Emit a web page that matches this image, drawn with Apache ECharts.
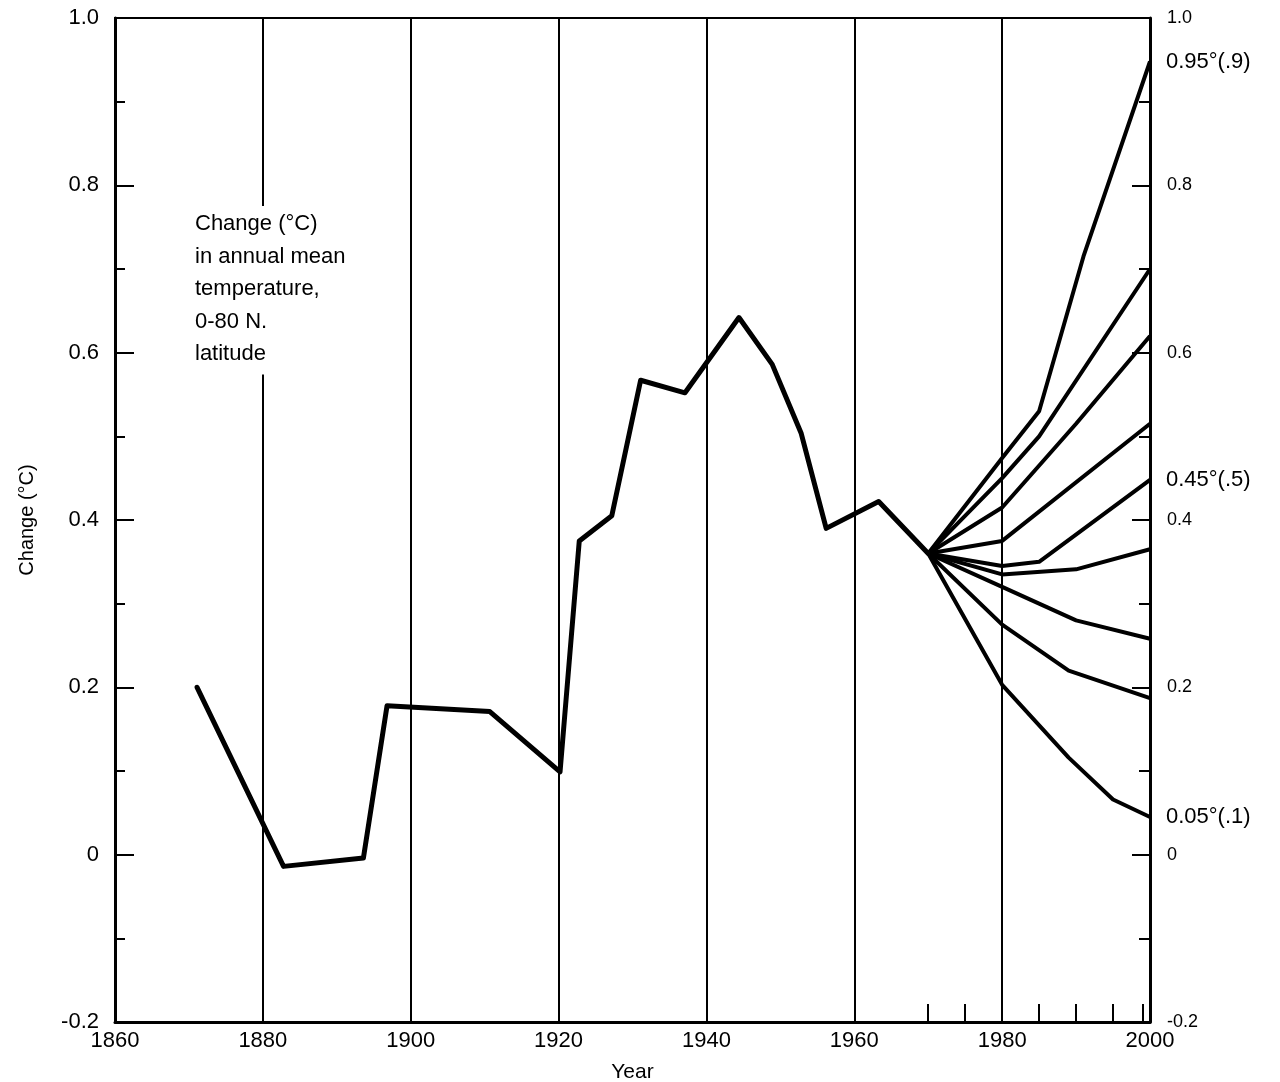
<!DOCTYPE html>
<html>
<head>
<meta charset="utf-8">
<script src="https://cdn.jsdelivr.net/npm/echarts@6/dist/echarts.min.js"></script>
<style>
  html, body { margin: 0; padding: 0; background: #fff; }
  #chart { width: 1280px; height: 1082px; }
</style>
</head>
<body>
<div id="chart"></div>
<script>
// observed annual mean change, 0-80 N
const observed = [
  [1871.1, 0.200], [1882.8, -0.014], [1893.6, -0.004], [1896.8, 0.178],
  [1910.7, 0.171], [1920.2, 0.099], [1922.8, 0.375], [1927.2, 0.405],
  [1931.1, 0.567], [1937.1, 0.552], [1944.4, 0.642], [1948.9, 0.586],
  [1952.8, 0.504], [1956.2, 0.390], [1963.3, 0.422], [1970, 0.36]
]

// projections fanning out from 1970
const proj1 = [[1970, 0.36], [1980, 0.474], [1985, 0.53], [1991, 0.715], [2000, 0.948]]
const proj2 = [[1970, 0.36], [1980, 0.45], [1985, 0.50], [2000, 0.70]]
const proj3 = [[1970, 0.36], [1980, 0.415], [1990, 0.515], [2000, 0.62]]
const proj4 = [[1970, 0.36], [1980, 0.375], [2000, 0.515]]
const proj5 = [[1970, 0.36], [1980, 0.345], [1985, 0.35], [2000, 0.448]]
const proj6 = [[1970, 0.36], [1980, 0.335], [1990, 0.341], [2000, 0.365]]
const proj7 = [[1970, 0.36], [1980, 0.32], [1985, 0.30], [1990, 0.28], [2000, 0.258]]
const proj8 = [[1970, 0.36], [1980, 0.275], [1989, 0.22], [2000, 0.187]]
const proj9 = [[1970, 0.36], [1980, 0.203], [1989, 0.116], [1995, 0.066], [2000, 0.045]]
const projections = [proj1, proj2, proj3, proj4, proj5, proj6, proj7, proj8, proj9]
const projLabels = ['0.95°(.9)', '', '', '', '0.45°(.5)', '', '', '', '0.05°(.1)']

const endTicks = [1970, 1975, 1985, 1990, 1995, 1999]
const note = 'Change (°C)\nin annual mean\ntemperature,\n0-80 N.\nlatitude'

const font = '"Liberation Sans", Arial, Helvetica, sans-serif'
const fmtY = v => (v === 0 ? '0' : v.toFixed(1))

const chart = echarts.init(document.getElementById('chart'), null, { renderer: 'canvas' })

const series = [{
  type: 'line',
  data: observed,
  symbol: 'none',
  lineStyle: { color: '#000', width: 5, join: 'round', cap: 'round' },
  z: 3
}]
projections.forEach((p, i) => {
  series.push({
    type: 'line',
    data: p,
    symbol: 'none',
    lineStyle: { color: '#000', width: 4, join: 'round' },
    endLabel: {
      show: projLabels[i] !== '',
      formatter: () => projLabels[i],
      distance: 16,
      color: '#000',
      fontFamily: font,
      fontSize: 22
    },
    z: 3
  })
})

chart.setOption({
  animation: false,
  backgroundColor: '#fff',
  grid: {
    left: 115,
    right: 130,
    top: 18,
    bottom: 60,
    outerBoundsMode: 'none',
    containLabel: false,
    show: true,
    borderColor: '#000',
    borderWidth: 2
  },
  xAxis: [{
    type: 'value',
    min: 1860,
    max: 2000,
    interval: 20,
    name: 'Year',
    nameLocation: 'middle',
    nameGap: 40,
    nameTextStyle: { color: '#000', fontFamily: font, fontSize: 21 },
    axisLine: { show: true, onZero: false, lineStyle: { color: '#000', width: 3 } },
    axisTick: { show: false },
    axisLabel: { color: '#000', fontFamily: font, fontSize: 22, margin: 8, formatter: v => String(v) },
    splitLine: { show: true, lineStyle: { color: '#000', width: 2 } }
  }, {
    type: 'value',
    min: 1860,
    max: 2000,
    position: 'bottom',
    axisLine: { show: false, onZero: false },
    axisLabel: { show: false },
    splitLine: { show: false },
    axisTick: { show: true, inside: true, length: 18, customValues: endTicks, lineStyle: { color: '#000', width: 2 } }
  }],
  yAxis: [{
    type: 'value',
    min: -0.2,
    max: 1.0,
    interval: 0.2,
    name: 'Change (°C)',
    nameLocation: 'middle',
    nameGap: 78,
    nameTextStyle: { color: '#000', fontFamily: font, fontSize: 20 },
    axisLine: { show: true, onZero: false, lineStyle: { color: '#000', width: 3 } },
    axisTick: { show: true, inside: true, length: 19, lineStyle: { color: '#000', width: 2 } },
    minorTick: { show: true, splitNumber: 2, length: 10, lineStyle: { color: '#000', width: 2 } },
    axisLabel: { color: '#000', fontFamily: font, fontSize: 22, margin: 16, formatter: fmtY },
    splitLine: { show: false }
  }, {
    type: 'value',
    min: -0.2,
    max: 1.0,
    interval: 0.2,
    position: 'right',
    axisLine: { show: true, onZero: false, lineStyle: { color: '#000', width: 3 } },
    axisTick: { show: true, inside: true, length: 18, lineStyle: { color: '#000', width: 2 } },
    minorTick: { show: true, splitNumber: 2, length: 11, lineStyle: { color: '#000', width: 2 } },
    axisLabel: { color: '#000', fontFamily: font, fontSize: 18, margin: 17, formatter: fmtY },
    splitLine: { show: false }
  }],
  graphic: [{
    type: 'text',
    left: 191,
    top: 206,
    z: 10,
    style: {
      text: note,
      fill: '#000',
      font: '22px ' + font,
      lineHeight: 32.5,
      backgroundColor: '#fff',
      padding: [2, 4, 4, 4]
    }
  }],
  series: series
})
</script>
</body>
</html>
